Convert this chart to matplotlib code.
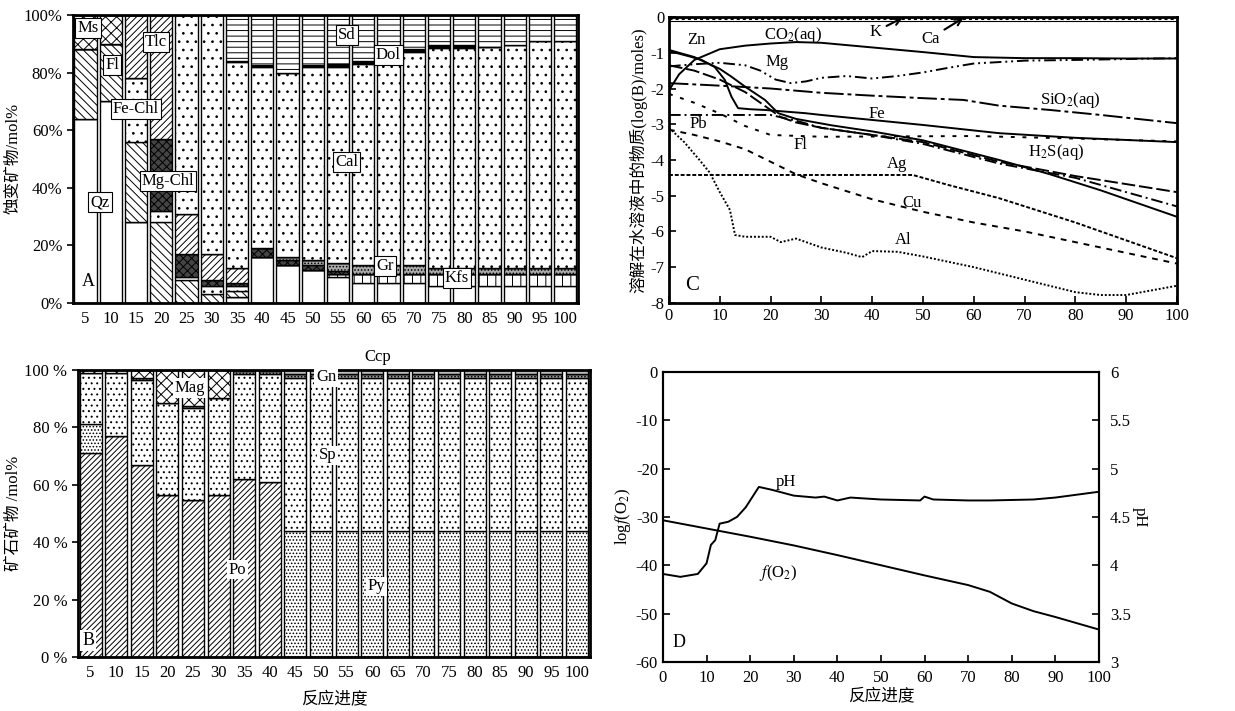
import numpy as np
import matplotlib
matplotlib.use("Agg")
import matplotlib.pyplot as plt

plt.rcParams['font.family'] = ['Liberation Serif', 'Noto Sans CJK SC']
plt.rcParams['mathtext.fontset'] = 'stix'
plt.rcParams['hatch.linewidth'] = 0.7
plt.rcParams['axes.unicode_minus'] = False

progress = [5, 10, 15, 20, 25, 30, 35, 40, 45, 50, 55, 60, 65, 70, 75, 80, 85, 90, 95, 100]

# A: alteration minerals (mol%), bottom -> top
alt_qz = [64, 70, 28, 0, 0, 0, 2, 16, 13, 11.5, 9, 7, 7, 7, 6, 6, 6, 6, 6, 6]
alt_kfs = [0, 0, 0, 0, 0, 0, 0, 0, 0, 0, 1, 3, 3, 3, 4, 4, 4, 4, 4, 4]
alt_fl = [24, 20, 28, 28, 8, 3, 2, 0, 0, 0, 0, 0, 0, 0, 0, 0, 0, 0, 0, 0]
alt_fechl = [0, 0, 22, 4, 1, 3, 2, 0, 0, 0, 0, 0, 0, 0, 0, 0, 0, 0, 0, 0]
alt_mgchl = [0, 0, 0, 25, 8, 2, 1, 3, 2, 1.5, 1, 0, 0, 0, 0, 0, 0, 0, 0, 0]
alt_gr = [0, 0, 0, 0, 0, 0, 0, 0, 1, 2, 3, 3, 3, 3, 2, 2, 2, 2, 2, 2]
alt_tlc = [0, 0, 22, 43, 14, 9, 5, 0, 0, 0, 0, 0, 0, 0, 0, 0, 0, 0, 0, 0]
alt_ms = [12, 10, 0, 0, 0, 0, 0, 0, 0, 0, 0, 0, 0, 0, 0, 0, 0, 0, 0, 0]
alt_cal = [0, 0, 0, 0, 69, 83, 71.5, 63, 64, 67, 68, 70, 70, 74, 76.5, 76.5, 77, 77.6, 79, 79]
alt_dol = [0, 0, 0, 0, 0, 0, 0.5, 0.5, 0, 0.5, 1, 1, 0, 1, 1, 1, 0, 0, 0, 0]
alt_sd = [0, 0, 0, 0, 0, 0, 16, 17.5, 20, 17.5, 17, 16, 17, 12, 10.5, 10.5, 11, 10.4, 9, 9]

# B: ore minerals (mol%)
ore_po = [71, 77, 67, 56.5, 54.5, 56.5, 62, 61, 0, 0, 0, 0, 0, 0, 0, 0, 0, 0, 0, 0]
ore_py = [10, 0, 0, 0, 0, 0, 0, 0, 44, 44, 44, 44, 44, 44, 44, 44, 44, 44, 44, 44]
ore_sp = [18, 22, 29.5, 32, 32, 33.5, 36.5, 37.5, 53, 53, 53, 53, 53, 53, 53, 53, 53, 53, 53, 53]
ore_gn = [0, 0, 0.5, 0, 1, 0, 1, 1, 1.5, 1.5, 1.5, 1.5, 1.5, 1.5, 1.5, 1.5, 1.5, 1.5, 1.5, 1.5]
ore_mag = [1, 1, 3, 11.5, 12.5, 10, 0.5, 0.5, 0, 0, 0, 0, 0, 0, 0, 0, 0, 0, 0, 0]
ore_ccp = [0, 0, 0, 0, 0, 0, 0, 0, 1.5, 1.5, 1.5, 1.5, 1.5, 1.5, 1.5, 1.5, 1.5, 1.5, 1.5, 1.5]

# C: log moles of dissolved species
co2_x = [0, 2, 5, 10, 15, 20, 25, 30, 40, 50, 60, 70, 80, 90, 100]
co2_y = [-2.05, -1.6, -1.2, -0.9, -0.8, -0.74, -0.7, -0.72, -0.85, -0.98, -1.12, -1.15, -1.15, -1.16, -1.16]
zn_x = [0, 5, 10, 12.3, 15, 18.9, 21.5, 25, 32, 40, 50, 65, 75, 85, 100]
zn_y = [-0.92, -1.12, -1.45, -1.67, -1.95, -2.32, -2.69, -2.85, -3.03, -3.2, -3.45, -4.0, -4.4, -4.85, -5.59]
fe_x = [0, 4, 6.4, 9, 11, 12.3, 13.6, 16, 18.9, 26.8, 30, 40, 50, 65, 80, 100]
fe_y = [-0.95, -1.1, -1.2, -1.4, -1.76, -2.23, -2.55, -2.58, -2.6, -2.69, -2.74, -2.88, -3.02, -3.25, -3.38, -3.5]
mg_x = [0, 5, 10, 15, 18, 21, 24, 27, 30, 35, 40, 45, 50, 55, 60, 70, 80, 100]
mg_y = [-1.38, -1.32, -1.28, -1.35, -1.5, -1.75, -1.85, -1.8, -1.7, -1.65, -1.72, -1.65, -1.55, -1.42, -1.3, -1.22, -1.2, -1.15]
sio2_x = [0, 10, 20, 30, 40, 50, 58, 65, 75, 85, 100]
sio2_y = [-1.85, -1.92, -2.0, -2.12, -2.2, -2.27, -2.32, -2.48, -2.6, -2.74, -2.97]
dash_x = [0, 5, 10, 15, 19, 22, 25, 30, 40, 50, 65, 80, 100]
dash_y = [-1.35, -1.5, -1.75, -2.1, -2.5, -2.8, -2.95, -3.1, -3.3, -3.5, -4.05, -4.45, -4.9]
pb_x = [0, 20, 25, 30, 40, 50, 65, 80, 100]
pb_y = [-2.74, -2.74, -2.9, -3.1, -3.3, -3.55, -4.1, -4.5, -5.3]
fl_x = [0, 5, 10, 15, 20, 30, 60, 80, 100]
fl_y = [-2.15, -2.4, -2.7, -3.05, -3.3, -3.35, -3.33, -3.4, -3.48]
cu_x = [0, 5, 10, 15, 20, 25, 30, 40, 50, 60, 70, 80, 90, 100]
cu_y = [-3.15, -3.3, -3.48, -3.7, -4.05, -4.4, -4.65, -5.1, -5.45, -5.75, -6.0, -6.3, -6.6, -6.9]
ag_x = [0, 48, 55, 65, 80, 90, 100]
ag_y = [-4.42, -4.42, -4.7, -5.07, -5.75, -6.25, -6.75]
al_x = [0, 3, 6, 8, 10, 12, 13, 15, 20, 22, 25, 30, 35, 38, 40, 45, 50, 60, 70, 80, 85, 90, 95, 100]
al_y = [-3.1, -3.5, -4.0, -4.35, -4.9, -5.4, -6.1, -6.15, -6.15, -6.3, -6.2, -6.45, -6.6, -6.72,
        -6.55, -6.57, -6.7, -7.0, -7.35, -7.7, -7.78, -7.78, -7.65, -7.52]
k_x = [0, 100]
k_y = [-0.04, -0.04]
ca_x = [0, 100]
ca_y = [-0.12, -0.12]

# D: log f(O2) and pH
fo2_x = [0, 20, 30, 40, 50, 60, 70, 75, 80, 85, 90, 100]
fo2_y = [-30.7, -34.1, -35.9, -37.9, -40.0, -42.1, -44.1, -45.5, -47.9, -49.5, -50.7, -53.3]
ph_x = [0, 4, 8, 10, 11, 12, 13, 15, 17, 19, 21, 22, 25, 30, 35, 37, 40, 43, 50, 59, 60, 62, 70, 75, 85, 90, 100]
ph_y = [3.91, 3.88, 3.91, 4.02, 4.21, 4.26, 4.43, 4.45, 4.5, 4.6, 4.74, 4.81, 4.78, 4.72, 4.7, 4.71,
        4.67, 4.7, 4.68, 4.67, 4.71, 4.68, 4.67, 4.67, 4.68, 4.7, 4.76]

fig = plt.figure(figsize=(12.35, 7.11), dpi=100)
axA = fig.add_axes([0.059, 0.574, 0.409, 0.405])
axB = fig.add_axes([0.063, 0.076, 0.4146, 0.404])
axC = fig.add_axes([0.5417, 0.574, 0.4113, 0.402])
axD = fig.add_axes([0.5368, 0.069, 0.353, 0.408])

pos = np.arange(len(progress))


def stack(ax, layers, width):
    bottom = np.zeros(len(pos))
    for vals, fc, hatch in layers:
        vals = np.array(vals, dtype=float)
        ax.bar(pos, vals, width, bottom=bottom, color=fc, hatch=hatch,
               edgecolor='black', linewidth=1.0)
        bottom += vals


def pct_axis(ax, labels, ylabel):
    ax.set_xlim(-0.5, len(pos) - 0.5)
    ax.set_ylim(0, 100)
    ax.set_xticks(pos)
    ax.set_xticklabels([str(p) for p in progress], fontsize=12)
    ax.set_yticks([0, 20, 40, 60, 80, 100])
    ax.set_yticklabels(labels, fontsize=12)
    ax.tick_params(axis='x', length=0, pad=6)
    ax.tick_params(axis='y', direction='out', length=4, width=1.2)
    ax.set_ylabel(ylabel, fontsize=12, labelpad=2)
    for s in ax.spines.values():
        s.set_linewidth(2)


stack(axA, [
    (alt_qz, 'white', ''),
    (alt_kfs, 'white', '||'),
    (alt_fl, 'white', '\\\\\\\\'),
    (alt_fechl, 'white', '..'),
    (alt_mgchl, '#444444', 'xxxx'),
    (alt_gr, '#aaaaaa', '.....'),
    (alt_tlc, 'white', '/////'),
    (alt_ms, 'white', 'xxx'),
    (alt_cal, 'white', '..'),
    (alt_dol, 'black', ''),
    (alt_sd, 'white', '---'),
], 0.88)
pct_axis(axA, ['0%', '20%', '40%', '60%', '80%', '100%'], '蚀变矿物/mol%')

box = dict(boxstyle='square,pad=0.12', fc='white', ec='black', lw=0.8)
for txt, x, y in [('Ms', 0.1, 95.5), ('Fl', 1.05, 82.5), ('Tlc', 2.8, 90.5), ('Fe-Chl', 2.0, 67.5),
                  ('Mg-Chl', 3.26, 42.5), ('Qz', 0.57, 35), ('Sd', 10.35, 93), ('Dol', 11.98, 86),
                  ('Cal', 10.35, 49), ('Gr', 11.86, 12.7), ('Kfs', 14.7, 8.7)]:
    axA.text(x, y, txt, fontsize=12, ha='center', va='center', bbox=box, zorder=5)
axA.text(0.1, 7.5, 'A', fontsize=13, ha='center', va='center', zorder=5)

stack(axB, [
    (ore_po, 'white', '//////'),
    (ore_py, 'white', '.....'),
    (ore_sp, 'white', '...'),
    (ore_gn, '#999999', '.....'),
    (ore_mag, 'white', 'xxx'),
    (ore_ccp, '#bbbbbb', ''),
], 0.86)
pct_axis(axB, ['0 %', '20 %', '40 %', '60 %', '80 %', '100 %'], '矿石矿物 /mol%')
axB.set_xlabel('反应进度', fontsize=12, labelpad=8)
wbox = dict(boxstyle='square,pad=0.1', fc='white', ec='none')
for txt, x, y in [('Mag', 3.87, 93.6), ('Sp', 9.27, 70.2), ('Po', 5.75, 30.4), ('Py', 11.17, 24.6)]:
    axB.text(x, y, txt, fontsize=12, ha='center', va='center', bbox=wbox, zorder=5)
axB.text(9.2, 97.5, 'Gn', fontsize=12, ha='center', va='center', bbox=wbox, zorder=5)
axB.text(11.2, 104.5, 'Ccp', fontsize=12, ha='center', va='center', clip_on=False)
axB.text(-0.1, 5.8, 'B', fontsize=13, ha='center', va='center', bbox=wbox, zorder=5)

# C
lw = 1.4
axC.plot(k_x, k_y, color='black', lw=2.2, ls=(0, (1, 1)))
axC.plot(ca_x, ca_y, color='black', lw=0.8)
axC.plot(co2_x, co2_y, color='black', lw=lw)
axC.plot(zn_x, zn_y, color='black', lw=lw)
axC.plot(fe_x, fe_y, color='black', lw=lw)
axC.plot(mg_x, mg_y, color='black', lw=lw, ls=(0, (6, 2, 1, 2, 1, 2)))
axC.plot(sio2_x, sio2_y, color='black', lw=lw, ls=(0, (10, 2, 2, 2)))
axC.plot(dash_x, dash_y, color='black', lw=lw, ls=(0, (7, 2)))
axC.plot(pb_x, pb_y, color='black', lw=lw, ls=(0, (6, 2, 1, 2)))
axC.plot(fl_x, fl_y, color='black', lw=lw, ls=(0, (2, 4)))
axC.plot(cu_x, cu_y, color='black', lw=lw, ls=(0, (3, 3)))
axC.plot(ag_x, ag_y, color='black', lw=lw, ls=(0, (2, 1)))
axC.plot(al_x, al_y, color='black', lw=lw, ls=(0, (1, 1)))
axC.set_xlim(0, 100)
axC.set_ylim(-8, 0)
axC.set_xticks(range(0, 101, 10))
axC.set_yticks(range(-8, 1))
axC.tick_params(direction='in', length=5, width=1.2, labelsize=12)
axC.set_ylabel('溶解在水溶液中的物质(log(B)/moles)', fontsize=12, labelpad=2)
for s in axC.spines.values():
    s.set_linewidth(2)
for txt, x, y in [('Zn', 5.4, -0.64), ('CO$_2$(aq)', 24.5, -0.5), ('Mg', 21.2, -1.25),
                  ('SiO$_2$(aq)', 79, -2.32), ('Fe', 41, -2.7), ('Pb', 5.8, -3.0), ('Fl', 25.8, -3.58),
                  ('Ag', 44.8, -4.1), ('H$_2$S(aq)', 76.3, -3.77), ('Cu', 47.8, -5.2), ('Al', 46, -6.24)]:
    axC.text(x, y, txt, fontsize=12, ha='center', va='center')
axC.text(4.5, -7.5, 'C', fontsize=15, ha='center', va='center')
axC.annotate('K', xy=(46, -0.02), xytext=(40.6, -0.41), fontsize=12, ha='center', va='center',
             arrowprops=dict(arrowstyle='->', lw=1.5, color='black', shrinkA=2, shrinkB=0))
axC.annotate('Ca', xy=(58, -0.02), xytext=(51.4, -0.6), fontsize=12, ha='center', va='center',
             arrowprops=dict(arrowstyle='->', lw=1.5, color='black', shrinkA=2, shrinkB=0))

# D
axD.plot(fo2_x, fo2_y, color='black', lw=1.4)
axD.set_xlim(0, 100)
axD.set_ylim(-60, 0)
axD.set_xticks(range(0, 101, 10))
axD.set_yticks(range(-60, 1, 10))
axD.tick_params(direction='in', length=5, width=1.2, labelsize=12)
axD.tick_params(axis='x', pad=6)
axD.set_ylabel('log$f$(O$_2$)', fontsize=12, labelpad=2)
axD.set_xlabel('反应进度', fontsize=12, labelpad=2)
axD2 = axD.twinx()
axD2.plot(ph_x, ph_y, color='black', lw=1.4)
axD2.set_ylim(3, 6)
axD2.set_yticks([3, 3.5, 4, 4.5, 5, 5.5, 6])
axD2.set_yticklabels(['3', '3.5', '4', '4.5', '5', '5.5', '6'])
axD2.tick_params(direction='in', length=5, width=1.2, labelsize=12, pad=8)
axD2.set_ylabel('pH', fontsize=12, rotation=270, labelpad=12)
for a in (axD, axD2):
    for s in a.spines.values():
        s.set_linewidth(1.5)
axD.text(28.3, -22.8, 'pH', fontsize=12, ha='center', va='center')
axD.text(26.4, -41.7, '$f$(O$_2$)', fontsize=12, ha='center', va='center')
axD.text(3.8, -56, 'D', fontsize=13, ha='center', va='center')

fig.savefig('out.png', dpi=100)
